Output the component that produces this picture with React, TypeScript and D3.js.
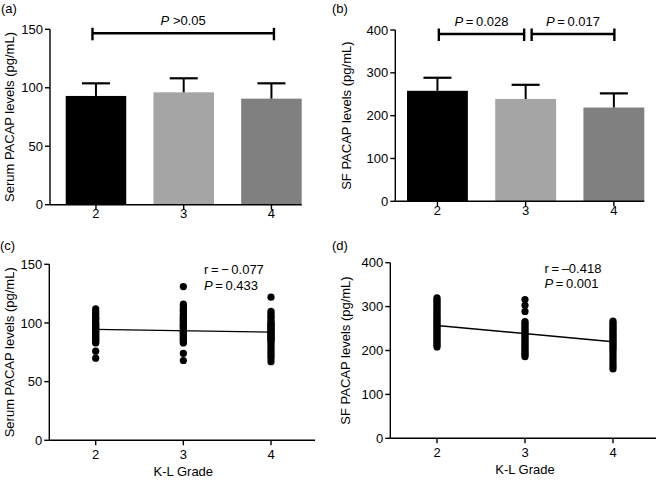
import React from "react";
import * as d3 from "d3";

// ---------- data ----------
const grades = ["2", "3", "4"];
const serumMean = [93, 96.1, 90.7];
const serumSD = [10.8, 12, 13.1];
const sfMean = [258, 239, 219];
const sfSD = [30.5, 33, 33];
const barColors = ["#000000", "#a5a5a5", "#808080"];
const serumTicks = [0, 50, 100, 150];
const sfTicks = [0, 100, 200, 300, 400];
const gradeNums = [2, 3, 4];

const serumG2 = [112, 110, 108, 107, 105, 104, 103, 101, 100, 99, 98, 97, 96, 95, 94, 93, 92, 91, 90, 89, 88, 87, 86, 85, 84, 83, 76, 70];
const serumG3 = [131, 116, 114, 112, 111, 110, 108, 107, 106, 105, 104, 103, 102, 101, 100, 99, 98, 97, 96, 95, 94, 93, 92, 91, 90, 89, 88, 87, 86, 85, 84, 83, 74, 68];
const serumG4 = [122, 110, 108, 106, 105, 103, 101, 100, 99, 98, 97, 96, 95, 94, 93, 92, 91, 90, 89, 88, 87, 86, 85, 84, 82, 80, 78, 76, 74, 72, 70, 67];

const sfG2 = [320, 316, 312, 308, 304, 300, 296, 292, 288, 284, 280, 276, 272, 268, 264, 260, 256, 252, 248, 244, 240, 236, 232, 228, 224, 220, 216, 212, 208];
const sfG3 = [316, 303, 289, 266, 262, 258, 254, 250, 246, 242, 238, 234, 230, 226, 222, 218, 214, 210, 206, 202, 198, 194, 190, 186];
const sfG4 = [267, 263, 259, 255, 251, 247, 243, 239, 235, 231, 227, 223, 219, 215, 211, 207, 203, 198, 192, 186, 180, 174, 168, 163, 158];

const serumFit = [94.5, 92.2]; // fitted values at grade 2 and 4
const sfFit = [257, 220];

const FONT = "'Liberation Sans', Arial, Helvetica, sans-serif";
const FS = 13;

type BarProps = {
  label: string;
  labelPosX: number;
  yLabel: string;
  means: number[];
  sds: number[];
  ticks: number[];
  yMax: number;
  axisX: number;
  yTop: number;
  yBottom: number;
  bandStart: number;
  bandEnd: number;
  labelX: number;
  brackets: { from: string; to: string; dx0: number; dx1: number; tail: string }[];
};

function BarPanel(p: BarProps) {
  const x = d3.scaleBand<string>().domain(grades).range([p.bandStart, p.bandEnd]).paddingInner(0.31).paddingOuter(0);
  const y = d3.scaleLinear().domain([0, p.yMax]).range([p.yBottom, p.yTop]);
  const bw = x.bandwidth();
  const cx = (g: string) => (x(g) as number) + bw / 2;
  const by = p.yTop + 4;
  return (
    <g>
      <text x={p.labelPosX} y={12.5} fontSize={FS} fontFamily={FONT}>{p.label}</text>
      {grades.map((g, i) => (
        <g key={g}>
          <rect x={x(g)} y={y(p.means[i])} width={bw} height={y(0) - y(p.means[i])} fill={barColors[i]} />
          <line x1={cx(g)} x2={cx(g)} y1={y(p.means[i])} y2={y(p.means[i] + p.sds[i])} stroke="#000" strokeWidth={2} />
          <line x1={cx(g) - 14} x2={cx(g) + 14} y1={y(p.means[i] + p.sds[i])} y2={y(p.means[i] + p.sds[i])} stroke="#000" strokeWidth={2.2} />
        </g>
      ))}
      <line x1={p.axisX} x2={p.axisX} y1={y(p.yMax)} y2={y(0)} stroke="#000" strokeWidth={1.4} />
      <line x1={p.axisX} x2={p.bandEnd} y1={y(0)} y2={y(0)} stroke="#000" strokeWidth={1.4} />
      {p.ticks.map((t) => (
        <g key={t}>
          <line x1={p.axisX - 5} x2={p.axisX} y1={y(t)} y2={y(t)} stroke="#000" strokeWidth={1.4} />
          <text x={p.axisX - 7} y={y(t)} dy="0.35em" textAnchor="end" fontSize={FS} fontFamily={FONT}>{t}</text>
        </g>
      ))}
      {grades.map((g) => (
        <g key={g}>
          <line x1={cx(g)} x2={cx(g)} y1={y(0)} y2={y(0) + 5} stroke="#000" strokeWidth={1.4} />
          <text x={cx(g)} y={y(0) + 13.5} textAnchor="middle" fontSize={FS} fontFamily={FONT}>{g}</text>
        </g>
      ))}
      <text transform={`translate(${p.labelX},${(y(0) + y(p.yMax)) / 2}) rotate(-90)`} textAnchor="middle" dy="0.35em" fontSize={FS} fontFamily={FONT}>{p.yLabel}</text>
      {p.brackets.map((b, i) => {
        const x0 = cx(b.from) + b.dx0;
        const x1 = cx(b.to) + b.dx1;
        return (
          <g key={i}>
            <line x1={x0} x2={x1} y1={by} y2={by} stroke="#000" strokeWidth={2.4} />
            <line x1={x0} x2={x0} y1={by - 5.5} y2={by + 7} stroke="#000" strokeWidth={2.4} />
            <line x1={x1} x2={x1} y1={by - 5.5} y2={by + 7} stroke="#000" strokeWidth={2.4} />
            <text x={(x0 + x1) / 2} y={by - 8.5} textAnchor="middle" fontSize={FS} fontFamily={FONT}>
              <tspan fontStyle="italic">P</tspan>
              <tspan>{b.tail}</tspan>
            </text>
          </g>
        );
      })}
    </g>
  );
}

type ScatterProps = {
  label: string;
  labelPosX: number;
  yLabel: string;
  groups: number[][];
  fit: number[];
  ticks: number[];
  yMax: number;
  axisX: number;
  axisEnd: number;
  c2: number;
  c4: number;
  yTop: number;
  yBottom: number;
  labelX: number;
  rText: string;
  pText: string;
  statX: number;
};

function ScatterPanel(p: ScatterProps) {
  const x = d3.scaleLinear().domain([2, 4]).range([p.c2, p.c4]);
  const y = d3.scaleLinear().domain([0, p.yMax]).range([p.yBottom, p.yTop]);
  const fitLine = d3.line<number>().x((_, i) => x(i === 0 ? 2 : 4)).y((d) => y(d));
  return (
    <g>
      <text x={p.labelPosX} y={250} fontSize={FS} fontFamily={FONT}>{p.label}</text>
      {p.groups.map((vals, gi) =>
        vals.map((v, j) => <circle key={gi + "-" + j} cx={x(gradeNums[gi])} cy={y(v)} r={3.6} fill="#000" />)
      )}
      <path d={fitLine(p.fit) || ""} stroke="#000" strokeWidth={1.4} fill="none" />
      <line x1={p.axisX} x2={p.axisX} y1={y(p.yMax)} y2={y(0)} stroke="#000" strokeWidth={1.4} />
      <line x1={p.axisX} x2={p.axisEnd} y1={y(0)} y2={y(0)} stroke="#000" strokeWidth={1.4} />
      {p.ticks.map((t) => (
        <g key={t}>
          <line x1={p.axisX - 5} x2={p.axisX} y1={y(t)} y2={y(t)} stroke="#000" strokeWidth={1.4} />
          <text x={p.axisX - 7} y={y(t)} dy="0.35em" textAnchor="end" fontSize={FS} fontFamily={FONT}>{t}</text>
        </g>
      ))}
      {gradeNums.map((g) => (
        <g key={g}>
          <line x1={x(g)} x2={x(g)} y1={y(0)} y2={y(0) + 5} stroke="#000" strokeWidth={1.4} />
          <text x={x(g)} y={y(0) + 18.5} textAnchor="middle" fontSize={FS} fontFamily={FONT}>{g}</text>
        </g>
      ))}
      <text x={x(3)} y={y(0) + 35.5} textAnchor="middle" fontSize={FS} fontFamily={FONT}>K-L Grade</text>
      <text transform={`translate(${p.labelX},${(y(0) + y(p.yMax)) / 2}) rotate(-90)`} textAnchor="middle" dy="0.35em" fontSize={FS} fontFamily={FONT}>{p.yLabel}</text>
      <text x={p.statX} y={p.yTop + 10} fontSize={FS} fontFamily={FONT}>{p.rText}</text>
      <text x={p.statX} y={p.yTop + 25.5} fontSize={FS} fontFamily={FONT}>
        <tspan fontStyle="italic">P</tspan>
        <tspan>{p.pText}</tspan>
      </text>
    </g>
  );
}

export default function App() {
  return (
    <svg width={662} height={482} style={{ position: "absolute", left: 0, top: 0, background: "#fff" }}>
      <rect x={0} y={0} width={662} height={482} fill="#fff" />
      <BarPanel
        label="(a)"
        labelPosX={1}
        yLabel="Serum PACAP levels (pg/mL)"
        means={serumMean}
        sds={serumSD}
        ticks={serumTicks}
        yMax={150}
        axisX={50}
        yTop={29.3}
        yBottom={204.7}
        bandStart={65.7}
        bandEnd={301.7}
        labelX={9}
        brackets={[{ from: "2", to: "4", dx0: -3.5, dx1: 2.5, tail: " >0.05" }]}
      />
      <BarPanel
        label="(b)"
        labelPosX={332}
        yLabel="SF PACAP levels (pg/mL)"
        means={sfMean}
        sds={sfSD}
        ticks={sfTicks}
        yMax={400}
        axisX={395.3}
        yTop={30}
        yBottom={201.3}
        bandStart={407}
        bandEnd={644.3}
        labelX={346}
        brackets={[
          { from: "2", to: "3", dx0: 1.4, dx1: -1.5, tail: "\u2009=\u20090.028" },
          { from: "3", to: "4", dx0: 6, dx1: 0.5, tail: "\u2009=\u20090.017" },
        ]}
      />
      <ScatterPanel
        label="(c)"
        labelPosX={0}
        yLabel="Serum PACAP levels (pg/mL)"
        groups={[serumG2, serumG3, serumG4]}
        fit={serumFit}
        ticks={serumTicks}
        yMax={150}
        axisX={49.3}
        axisEnd={315}
        c2={95.7}
        c4={271}
        yTop={264.3}
        yBottom={440.3}
        labelX={9}
        rText={"r\u2009=\u2009\u2212\u20090.077"}
        pText={"\u2009=\u20090.433"}
        statX={204}
      />
      <ScatterPanel
        label="(d)"
        labelPosX={332}
        yLabel="SF PACAP levels (pg/mL)"
        groups={[sfG2, sfG3, sfG4]}
        fit={sfFit}
        ticks={sfTicks}
        yMax={400}
        axisX={390.3}
        axisEnd={656}
        c2={437}
        c4={613}
        yTop={262.7}
        yBottom={438.3}
        labelX={345}
        rText={"r\u2009=\u2009\u20130.418"}
        pText={"\u2009=\u20090.001"}
        statX={544.5}
      />
    </svg>
  );
}
